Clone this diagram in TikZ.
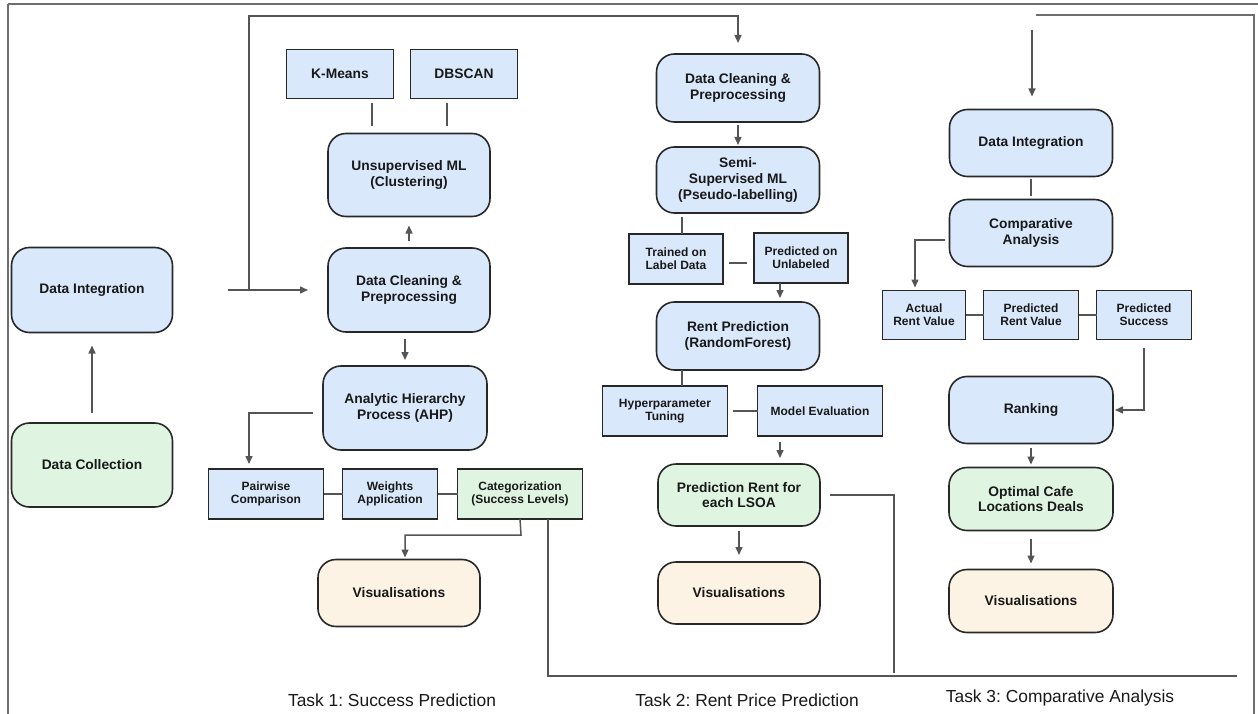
\documentclass[tikz,border=0pt]{standalone}
\usepackage{fontspec}
\setmainfont{Liberation Sans}
\usetikzlibrary{arrows.meta,calc}
\frenchspacing
\definecolor{blu}{RGB}{218,232,252}
\definecolor{grn}{RGB}{224,245,225}
\definecolor{bei}{RGB}{253,243,228}
\definecolor{bd}{RGB}{40,40,40}
\definecolor{lc}{RGB}{85,85,85}
\definecolor{fc}{RGB}{110,110,110}
\definecolor{txt}{RGB}{25,25,25}
\begin{document}
\begin{tikzpicture}[x=1pt,y=-1pt,
  box/.style={draw=bd, line width=1.6pt, inner sep=0pt, outer sep=0pt, align=center, text=txt},
  big/.style={box, rounded corners=18pt, font=\bfseries\fontsize{13.8}{15.8}\selectfont},
  sm/.style={box, font=\bfseries\fontsize{12}{13.4}\selectfont},
  smbig/.style={box, font=\bfseries\fontsize{13.8}{15.8}\selectfont},
  ln/.style={draw=lc, line width=1.5pt},
  arr/.style={ln, -{Triangle[length=8pt,width=7pt]}},
  framel/.style={draw=fc, line width=1.5pt},
  task/.style={font=\fontsize{17.4}{20}\selectfont, text=txt}
]
\useasboundingbox (0,0) rectangle (1258,714);
% frame
\draw[framel, line width=2.5pt] (8,4) -- (1258,4);
\draw[framel] (8,4) -- (8,714);
\draw[framel] (1036,15) -- (1254,15) -- (1254,714);

% ---- left column
\node[big, fill=blu, minimum width=161pt, minimum height=85pt] (di0) at (92,290) {Data Integration};
\node[big, fill=grn, minimum width=161pt, minimum height=84pt] (dc0) at (92,465) {Data Collection};

% ---- task 1
\node[smbig, fill=blu, minimum width=107pt, minimum height=49pt] (km) at (340,74) {K-Means};
\node[smbig, fill=blu, minimum width=107pt, minimum height=49pt] (db) at (464,74) {DBSCAN};
\node[big, fill=blu, minimum width=162pt, minimum height=83pt] (uml) at (409,175) {Unsupervised ML\\(Clustering)};
\node[big, fill=blu, minimum width=162pt, minimum height=84pt] (dcp1) at (409,290) {Data Cleaning \&\\Preprocessing};
\node[big, fill=blu, minimum width=164pt, minimum height=84pt] (ahp) at (405,408) {Analytic Hierarchy\\Process (AHP)};
\node[sm, fill=blu, minimum width=115pt, minimum height=50pt] (pw) at (266,494) {Pairwise\\Comparison};
\node[sm, fill=blu, minimum width=95pt, minimum height=50pt] (wa) at (390,494) {Weights\\Application};
\node[sm, fill=grn, minimum width=125pt, minimum height=50pt] (cat) at (520,494) {Categorization\\(Success Levels)};
\node[big, fill=bei, minimum width=162pt, minimum height=67pt] (vis1) at (399,593) {Visualisations};

% ---- task 2
\node[big, fill=blu, minimum width=163pt, minimum height=68pt] (dcp2) at (738,88) {Data Cleaning \&\\Preprocessing};
\node[big, fill=blu, minimum width=163pt, minimum height=66pt] (ssl) at (738,180) {Semi-\\Supervised ML\\(Pseudo-labelling)};
\node[sm, fill=blu, minimum width=94pt, minimum height=50pt] (tld) at (676,259) {Trained on\\Label Data};
\node[sm, fill=blu, minimum width=94pt, minimum height=50pt] (pou) at (801,258) {Predicted on\\Unlabeled};
\node[big, fill=blu, minimum width=163pt, minimum height=68pt] (rp) at (738,336) {Rent Prediction\\(RandomForest)};
\node[sm, fill=blu, minimum width=125pt, minimum height=50pt] (hp) at (665,411) {Hyperparameter\\Tuning};
\node[sm, fill=blu, minimum width=125pt, minimum height=50pt] (me) at (820,411) {Model Evaluation};
\node[big, fill=grn, minimum width=162pt, minimum height=62pt] (prl) at (739,495) {Prediction Rent for\\each LSOA};
\node[big, fill=bei, minimum width=162pt, minimum height=62pt] (vis2) at (739,593) {Visualisations};

% ---- task 3
\node[big, fill=blu, minimum width=163pt, minimum height=67pt] (di3) at (1031,143) {Data Integration};
\node[big, fill=blu, minimum width=163pt, minimum height=67pt] (ca) at (1031,233) {Comparative\\Analysis};
\node[sm, fill=blu, minimum width=83pt, minimum height=49pt] (arv) at (924,315) {Actual\\Rent Value};
\node[sm, fill=blu, minimum width=95pt, minimum height=49pt] (prv) at (1031,315) {Predicted\\Rent Value};
\node[sm, fill=blu, minimum width=95pt, minimum height=49pt] (ps) at (1144,315) {Predicted\\Success};
\node[big, fill=blu, minimum width=164pt, minimum height=67pt] (rk) at (1031,410) {Ranking};
\node[big, fill=grn, minimum width=164pt, minimum height=63pt] (ocl) at (1031,499) {Optimal Cafe\\Locations Deals};
\node[big, fill=bei, minimum width=164pt, minimum height=63pt] (vis3) at (1031,601) {Visualisations};

% task labels
\node[task] (t1) at (392,700) {Task 1: Success Prediction};
\node[task] (t2) at (747,700) {Task 2: Rent Price Prediction};
\node[task] (t3) at (1060,698) {Task 3: Comparative Analysis};

% ---- connectors left
\draw[arr, shorten <=10pt, shorten >=13pt] (dc0) -- (di0);
\draw[arr, shorten <=55pt, shorten >=20pt] (di0) -- (dcp1);
\coordinate (j1) at (249,290);
\coordinate (tp1) at (249,16);
\draw[arr, shorten >=11pt] (j1) -- (tp1) -| (dcp2.north);

% task 1 connectors
\coordinate (kmA) at ([xshift=32pt]km.south);
\coordinate (dbA) at ([xshift=-17pt]db.south);
\draw[ln, shorten <=5pt, shorten >=7pt] (kmA) -- (kmA |- uml.north);
\draw[ln, shorten <=5pt, shorten >=7pt] (dbA) -- (dbA |- uml.north);
\draw[arr, shorten <=7pt, shorten >=9pt] (dcp1) -- (uml);
\draw[arr, shorten <=7pt, shorten >=6pt] (dcp1.south -| ahp.north) -- (ahp.north);
\coordinate (ahpW) at ([yshift=-5pt]ahp.west);
\coordinate (pwN) at ([xshift=-17pt]pw.north);
\draw[arr, shorten <=10pt, shorten >=5pt] (ahpW) -| (pwN);
\draw[ln] (pw) -- (wa);
\draw[ln] (wa) -- (cat);
\coordinate (c1) at (521,535);
\coordinate (v1N) at ([xshift=6pt]vis1.north);
\draw[arr, shorten >=2pt] (cat.south) -- (c1) -| (v1N);
\coordinate (catB) at ([xshift=28pt]cat.south);
\coordinate (b1) at (548,676);
\coordinate (b2) at (1237,676);
\draw[ln] (catB) -- (b1) -- (b2);

% task 2 connectors
\draw[arr, shorten <=3pt, shorten >=2pt] (dcp2) -- (ssl);
\coordinate (tldN) at ([xshift=6pt]tld.north);
\draw[ln, shorten <=4pt] (tldN |- ssl.south) -- (tldN);
\coordinate (tldE) at ([yshift=-4pt]tld.east);
\draw[ln, shorten <=6pt, shorten >=7pt] (tldE) -- (tldE -| pou.west);
\coordinate (pouS) at ([xshift=-21pt]pou.south);
\draw[arr, shorten >=4pt] (pouS) -- (pouS |- rp.north);
\coordinate (hpN) at ([xshift=17pt]hp.north);
\draw[ln] (hpN |- rp.south) -- (hpN);
\draw[ln, shorten <=5pt] (hp) -- (me);
\coordinate (meS) at ([xshift=-40pt]me.south);
\draw[arr, shorten <=6pt, shorten >=6pt] (meS) -- (meS |- prl.north);
\draw[arr, shorten <=5pt, shorten >=7pt] (prl) -- (vis2);
\coordinate (b3) at (894,673);
\draw[ln, shorten <=10pt] (prl.east) -| (b3);

% task 3 connectors
\coordinate (t3s) at (1032,30);
\draw[arr, shorten >=13pt] (t3s) -- (t3s |- di3.north);
\draw[ln, shorten <=3pt, shorten >=3pt] (di3) -- (ca);
\coordinate (caW) at ([yshift=-7pt]ca.west);
\coordinate (arvN) at ([xshift=-9pt]arv.north);
\draw[arr, shorten <=5pt, shorten >=3pt] (caW) -| (arvN);
\draw[ln] (arv) -- (prv);
\draw[ln] (prv) -- (ps);
\draw[arr, shorten <=8pt, shorten >=2pt] (ps.south) |- (rk.east);
\draw[arr, shorten <=4pt, shorten >=3pt] (rk) -- (ocl);
\draw[arr, shorten <=8pt, shorten >=6pt] (ocl) -- (vis3);
\end{tikzpicture}
\end{document}
